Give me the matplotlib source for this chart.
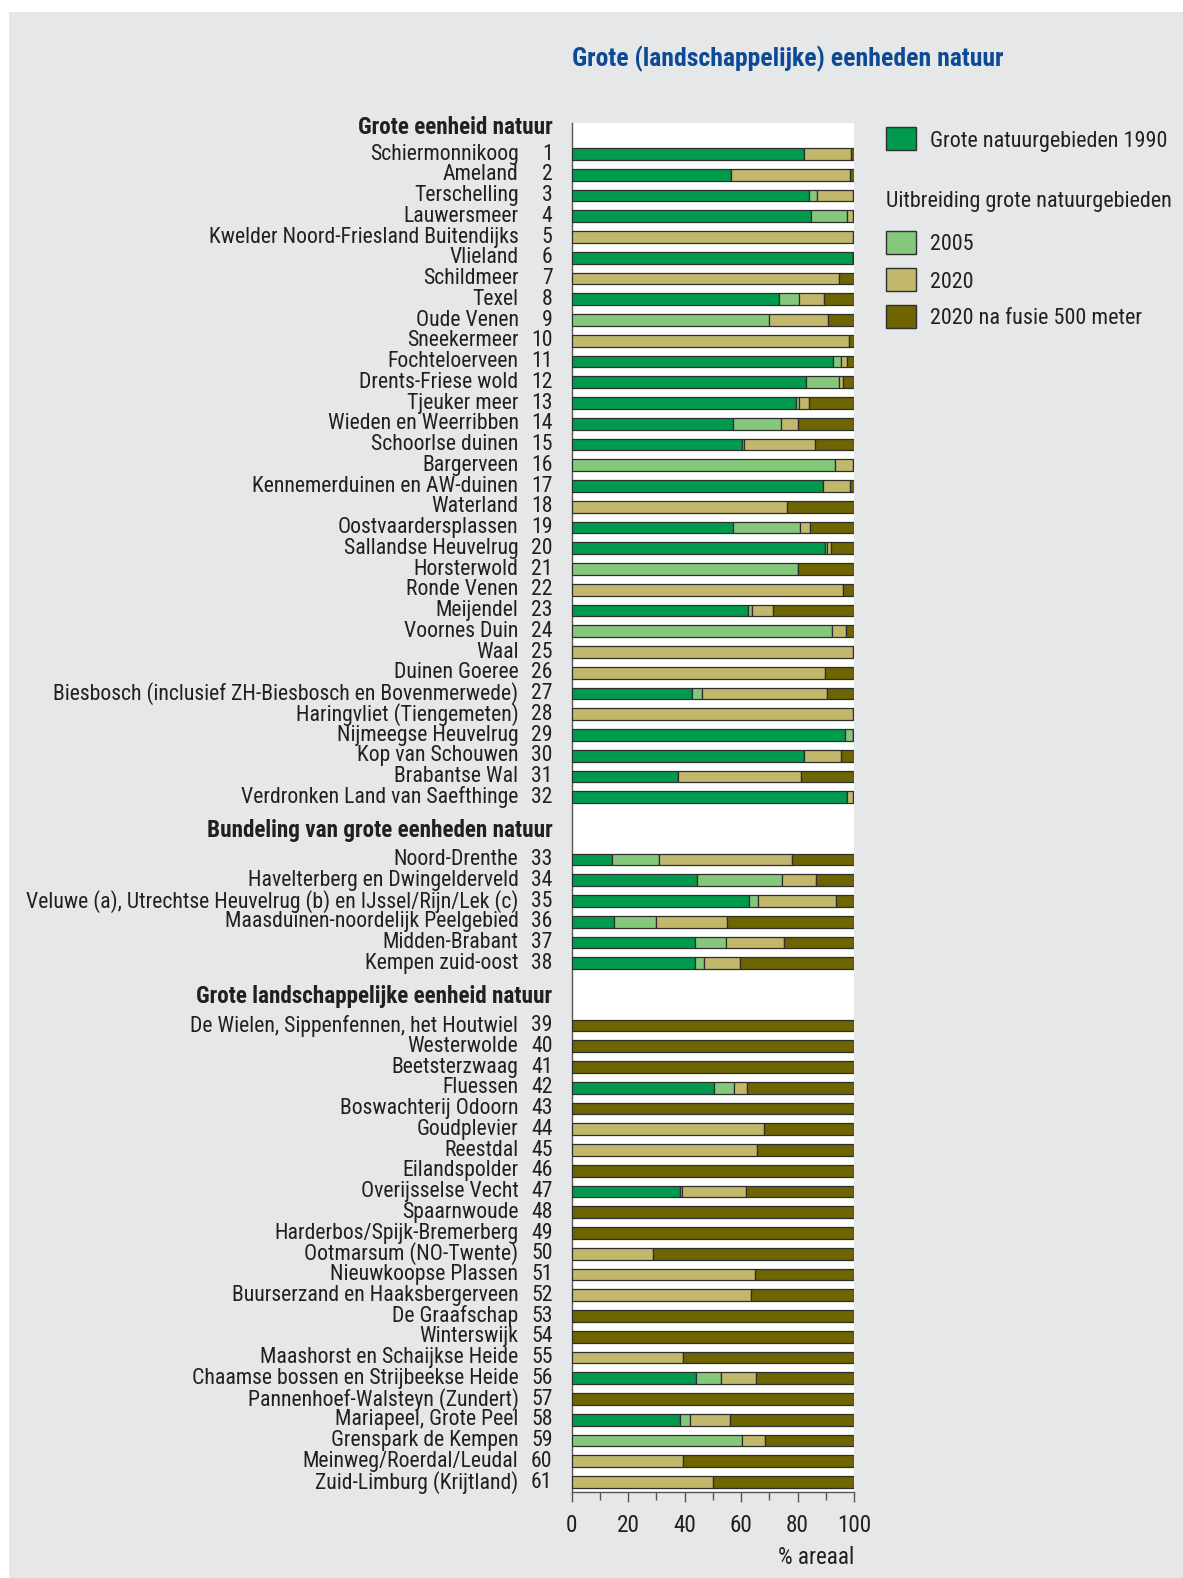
import matplotlib
matplotlib.use("Agg")
import matplotlib.pyplot as plt
from matplotlib import font_manager as fm
from matplotlib.patches import Rectangle
from matplotlib.transforms import blended_transform_factory
import numpy as np

# ---------------- data ----------------
areas = [
    "Schiermonnikoog", "Ameland", "Terschelling", "Lauwersmeer",
    "Kwelder Noord-Friesland Buitendijks", "Vlieland", "Schildmeer", "Texel",
    "Oude Venen", "Sneekermeer", "Fochteloerveen", "Drents-Friese wold",
    "Tjeuker meer", "Wieden en Weerribben", "Schoorlse duinen", "Bargerveen",
    "Kennemerduinen en AW-duinen", "Waterland", "Oostvaardersplassen",
    "Sallandse Heuvelrug", "Horsterwold", "Ronde Venen", "Meijendel",
    "Voornes Duin", "Waal", "Duinen Goeree",
    "Biesbosch (inclusief ZH-Biesbosch en Bovenmerwede)",
    "Haringvliet (Tiengemeten)", "Nijmeegse Heuvelrug", "Kop van Schouwen",
    "Brabantse Wal", "Verdronken Land van Saefthinge",
    "Noord-Drenthe", "Havelterberg en Dwingelderveld",
    "Veluwe (a), Utrechtse Heuvelrug (b) en IJssel/Rijn/Lek (c)",
    "Maasduinen-noordelijk Peelgebied", "Midden-Brabant", "Kempen zuid-oost",
    "De Wielen, Sippenfennen, het Houtwiel", "Westerwolde", "Beetsterzwaag",
    "Fluessen", "Boswachterij Odoorn", "Goudplevier", "Reestdal",
    "Eilandspolder", "Overijsselse Vecht", "Spaarnwoude",
    "Harderbos/Spijk-Bremerberg", "Ootmarsum (NO-Twente)",
    "Nieuwkoopse Plassen", "Buurserzand en Haaksbergerveen", "De Graafschap",
    "Winterswijk", "Maashorst en Schaijkse Heide",
    "Chaamse bossen en Strijbeekse Heide", "Pannenhoef-Walsteyn (Zundert)",
    "Mariapeel, Grote Peel", "Grenspark de Kempen", "Meinweg/Roerdal/Leudal",
    "Zuid-Limburg (Krijtland)",
]
numbers = list(range(1, 62))
group = [0] * 32 + [1] * 6 + [2] * 23
group_titles = ["Grote eenheid natuur",
                "Bundeling van grote eenheden natuur",
                "Grote landschappelijke eenheid natuur"]

v1990 = [82.4, 56.4, 83.9, 84.7, 0, 99.8, 0, 73.3, 0, 0,
         92.7, 82.9, 79.6, 57.3, 60.2, 0, 89.0, 0, 57.0, 89.7,
         0, 0, 62.3, 0, 0, 0, 42.5, 0, 96.7, 82.4,
         37.8, 97.6,
         14.4, 44.4, 62.9, 15.0, 43.8, 43.6,
         0, 0, 0, 50.5, 0, 0, 0, 0, 38.3, 0,
         0, 0, 0, 0, 0, 0, 0, 44.0, 0, 38.5,
         0, 0, 0]
v2005 = [0, 0, 2.9, 12.8, 0, 0, 0, 7.3, 70.0, 0,
         2.6, 11.7, 1.0, 16.7, 0.8, 93.4, 0, 0, 24.0, 0.9,
         80.2, 0, 1.7, 92.1, 0, 0, 3.7, 0, 3.1, 0,
         0, 0,
         16.5, 30.0, 3.0, 14.9, 11.0, 3.2,
         0, 0, 0, 6.9, 0, 0, 0, 0, 0.8, 0,
         0, 0, 0, 0, 0, 0, 0, 8.8, 0, 3.5,
         60.2, 0, 0]
v2020 = [16.5, 42.3, 13.0, 2.3, 99.8, 0, 94.8, 8.9, 20.8, 98.3,
         2.3, 1.6, 3.5, 6.2, 25.1, 6.4, 9.5, 76.2, 3.5, 1.4,
         0, 96.2, 7.4, 5.1, 99.8, 89.8, 44.4, 99.8, 0, 13.0,
         43.4, 2.2,
         47.1, 12.3, 27.8, 25.2, 20.4, 12.9,
         0, 0, 0, 4.7, 0, 68.1, 65.5, 0, 22.6, 0,
         0, 28.7, 64.9, 63.5, 0, 0, 39.6, 12.4, 0, 14.0,
         8.4, 39.3, 50.2]
vfusie = [1.1, 1.3, 0.2, 0.2, 0.2, 0.2, 5.2, 10.5, 9.2, 1.7,
          2.4, 3.8, 15.9, 19.8, 13.9, 0.2, 1.5, 23.8, 15.5, 8.0,
          19.8, 3.8, 28.6, 2.8, 0.2, 10.2, 9.4, 0.2, 0.2, 4.6,
          18.8, 0.2,
          22.0, 13.3, 6.3, 44.9, 24.8, 40.3,
          100, 100, 100, 37.9, 100, 31.9, 34.5, 100, 38.3, 100,
          100, 71.3, 35.1, 36.5, 100, 100, 60.4, 34.8, 100, 44.0,
          31.4, 60.7, 49.8]

series_labels = ["Grote natuurgebieden 1990", "2005", "2020",
                 "2020 na fusie 500 meter"]
legend_subtitle = "Uitbreiding grote natuurgebieden"
title = "Grote (landschappelijke) eenheden natuur"
xticks = [0, 20, 40, 60, 80, 100]
xlabel = "% areaal"

# ---------------- style ----------------
colors = ["#009A4E", "#85C87B", "#C1B86C", "#6E6400"]
edge = "#2e2e2e"
bg = "#E6E7E8"
title_color = "#0D4A96"
text_color = "#231F20"


def _w(f):
    w = f.weight
    if isinstance(w, str):
        return {"normal": 400, "regular": 400, "book": 400, "medium": 500,
                "bold": 700}.get(w.lower(), 400)
    return int(w)


def pick_fonts():
    cond = [f for f in fm.fontManager.ttflist
            if str(f.stretch) in ("condensed", "semi-condensed",
                                  "extra-condensed", "ultra-condensed")
            and f.style == "normal"]
    prefs = ["Liberation Sans Narrow", "Arial Narrow", "Roboto Condensed",
             "Open Sans Condensed", "Noto Sans", "DejaVu Sans", "Lato",
             "Inter", "Open Sans", "Roboto"]
    for p in prefs:
        regs = [f for f in cond if f.name == p and 350 <= _w(f) <= 450]
        bolds = [f for f in cond if f.name == p and 600 <= _w(f) <= 800]
        if regs:
            r = regs[0].fname
            b = bolds[0].fname if bolds else None
            return r, b
    r = fm.findfont(fm.FontProperties(family="Liberation Sans"))
    b = fm.findfont(fm.FontProperties(family="Liberation Sans", weight="bold"))
    return r, b


reg_path, bold_path = pick_fonts()


def fp(size, bold=False):
    if bold and bold_path:
        return fm.FontProperties(fname=bold_path, size=size)
    if bold:
        return fm.FontProperties(fname=reg_path, size=size, weight="bold")
    return fm.FontProperties(fname=reg_path, size=size)


W, H = 1183, 1578
fig = plt.figure(figsize=(W / 100, H / 100), dpi=100)
fig.patch.set_facecolor("white")
renderer = fig.canvas.get_renderer()


def fit_size(s, target_px, bold=False):
    t = fig.text(0, 0, s, fontproperties=fp(20, bold))
    w = t.get_window_extent(renderer).width
    t.remove()
    return 20 * target_px / w


FS_LAB = fit_size("Veluwe (a), Utrechtse Heuvelrug (b) en IJssel/Rijn/Lek (c)", 492)
FS_HEAD = fit_size("Bundeling van grote eenheden natuur", 346, bold=True)
FS_TITLE = fit_size(title, 428, bold=True)
FS_LEG = fit_size("Grote natuurgebieden 1990", 236)
FS_TICK = fit_size("% areaal", 76)

fig.add_artist(Rectangle((8.5 / W, 0), 1 - 8.5 / W, 1 - 12 / H,
                         transform=fig.transFigure, facecolor=bg,
                         edgecolor="none", zorder=-10))

ax_left, ax_right = 571.7 / W, 854.0 / W
ax_top, ax_bot = 1 - 122.7 / H, 1 - 1492.0 / H
ax = fig.add_axes([ax_left, ax_bot, ax_right - ax_left, ax_top - ax_bot])
ax.set_facecolor("white")

rows = np.array([i + 2 * g for i, g in enumerate(group)], dtype=float)
left = np.zeros(len(areas))
for vals, col in zip([v1990, v2005, v2020, vfusie], colors):
    vals = np.array(vals, dtype=float)
    ax.barh(rows, vals, left=left, height=0.56, color=col,
            edgecolor=edge, linewidth=0.9, zorder=3)
    left += vals

ax.set_xlim(0, 100)
ax.set_ylim(64.48, -1.51)
ax.set_yticks([])
ax.set_xticks(xticks)
ax.set_xticks(np.arange(10, 100, 20), minor=True)
ax.tick_params(axis="x", which="major", length=7, width=1, color="#555555",
               labelcolor=text_color, pad=8.5)
ax.tick_params(axis="x", which="minor", length=6, width=1, color="#555555")
for lab in ax.get_xticklabels():
    lab.set_fontproperties(fp(FS_TICK))
for s in ["top", "right"]:
    ax.spines[s].set_visible(False)
for s in ["left", "bottom"]:
    ax.spines[s].set_color("#555555")
    ax.spines[s].set_linewidth(1.0)

ax.text(1.0, 1 - 1557 / H, xlabel,
        transform=blended_transform_factory(ax.transAxes, fig.transFigure),
        ha="right", va="center", fontproperties=fp(FS_TICK), color=text_color)

# category labels
tr = blended_transform_factory(fig.transFigure, ax.transData)
for r, name, num in zip(rows, areas, numbers):
    ax.text(518.5 / W, r, name, transform=tr, ha="right", va="center",
            fontproperties=fp(FS_LAB), color=text_color, clip_on=False)
    ax.text(552.5 / W, r, str(num), transform=tr, ha="right", va="center",
            fontproperties=fp(FS_LAB), color=text_color, clip_on=False)

for g, t in enumerate(group_titles):
    first = rows[[i for i, gg in enumerate(group) if gg == g][0]]
    off = 1.3 if g == 0 else 1.42
    ax.text(552.5 / W, first - off, t, transform=tr, ha="right", va="center",
            fontproperties=fp(FS_HEAD, bold=True), color=text_color,
            clip_on=False)

# title
fig.text(572 / W, 1 - 59 / H, title, ha="left", va="center",
         fontproperties=fp(FS_TITLE, bold=True), color=title_color)

# legend (manual)
pw, ph = 30 / W, 23 / H
legend_items = [(138.5, series_labels[0], colors[0]),
                (242.5, series_labels[1], colors[1]),
                (279.5, series_labels[2], colors[2]),
                (316.5, series_labels[3], colors[3])]
for yc, lab, col in legend_items:
    fig.add_artist(Rectangle((885.5 / W, 1 - (yc + 11.5) / H), pw, ph,
                             transform=fig.transFigure, facecolor=col,
                             edgecolor=edge, linewidth=1.0))
    fig.text(930 / W, 1 - (yc + 2.5) / H, lab, ha="left", va="center",
             fontproperties=fp(FS_LEG), color=text_color)
fig.text(886 / W, 1 - 201.5 / H, legend_subtitle, ha="left", va="center",
         fontproperties=fp(FS_LEG), color=text_color)

fig.savefig("out.png", dpi=100, facecolor=fig.get_facecolor())
